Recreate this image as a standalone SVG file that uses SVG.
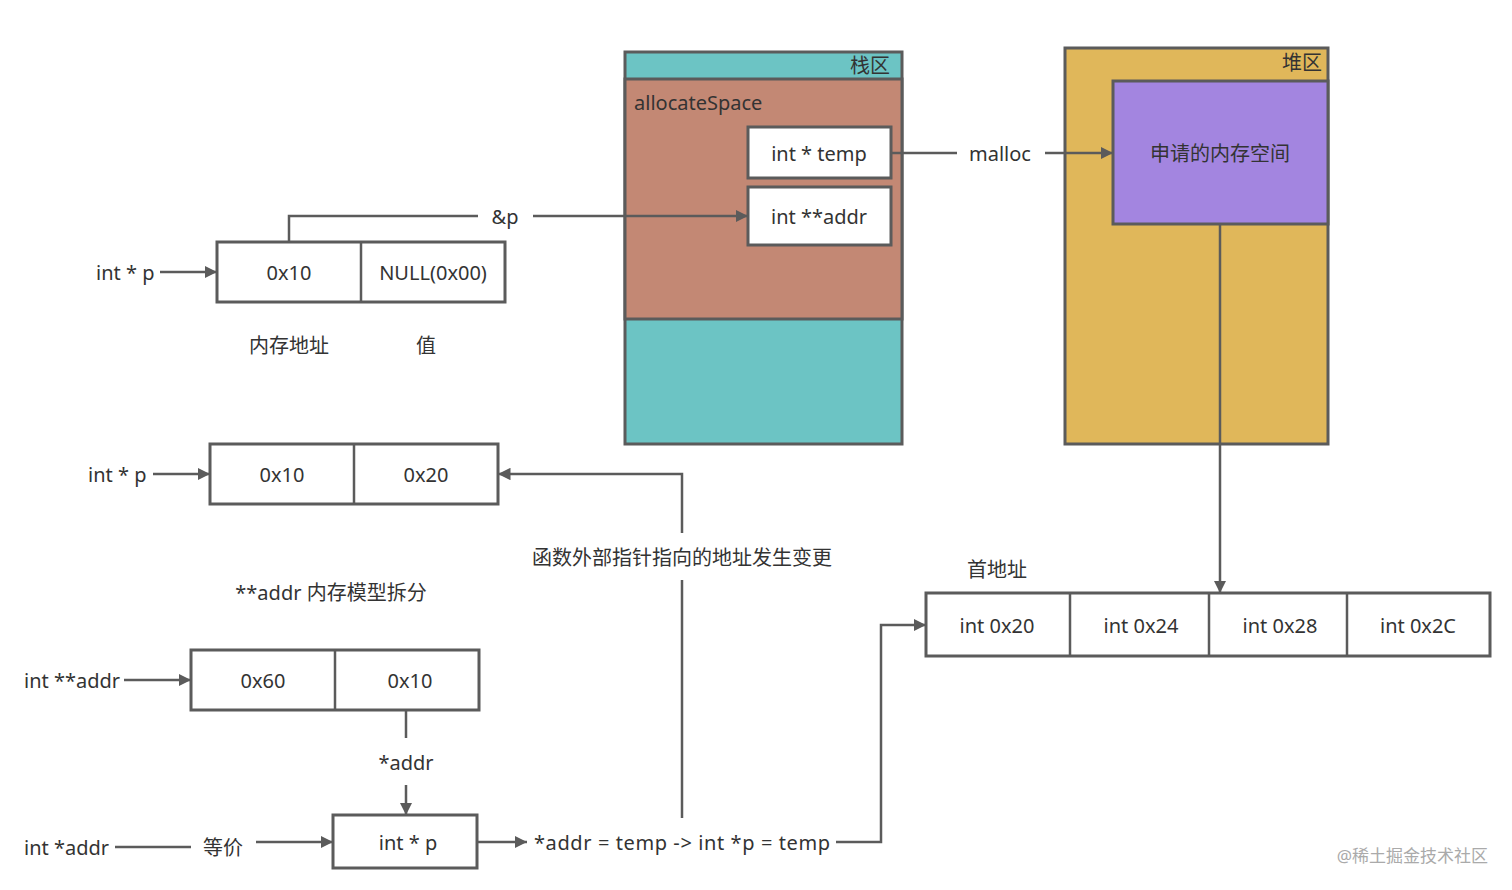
<svg xmlns="http://www.w3.org/2000/svg" width="1512" height="890" viewBox="0 0 1512 890">
<style>
text{font-family:"Noto Sans","Noto Sans CJK SC",sans-serif;font-size:20px;fill:#333;dominant-baseline:central}
.c{text-anchor:middle}
.box{fill:#fff;stroke:#5b5b5b;stroke-width:3}
.ln{fill:none;stroke:#5b5b5b;stroke-width:2.5}
.ar{marker-end:url(#ah)}
</style>
<defs>
<marker id="ah" viewBox="0 0 10 10" refX="10" refY="5" markerWidth="5" markerHeight="5" markerUnits="strokeWidth" orient="auto">
<path d="M0,0 L10,5 L0,10 z" fill="#5b5b5b"/>
</marker>
</defs>
<rect width="1512" height="890" fill="#fff"/>

<g id="stack">
<rect x="625" y="52" width="277" height="392" fill="#6cc4c4" stroke="#5b5b5b" stroke-width="3"/>
<rect x="625" y="79" width="277" height="240" fill="#c38874" stroke="#5b5b5b" stroke-width="3"/>
<text x="890" y="65" text-anchor="end">栈区</text>
<text x="634" y="102">allocateSpace</text>
</g>
<g id="temp"><rect class="box" x="748" y="127" width="143" height="51"/><text class="c" x="819" y="153">int * temp</text></g>
<g id="addr2"><rect class="box" x="748" y="187" width="143" height="58"/><text class="c" x="819" y="216">int **addr</text></g>

<g id="heap">
<rect x="1065" y="48" width="263" height="396" fill="#e0b75a" stroke="#5b5b5b" stroke-width="3"/>
<text x="1322" y="62" text-anchor="end">堆区</text>
</g>
<g id="alloc"><rect x="1113" y="81" width="215" height="143" fill="#a385e0" stroke="#5b5b5b" stroke-width="3"/><text class="c" x="1220" y="153">申请的内存空间</text></g>

<g id="mem1">
<rect class="box" x="217" y="242" width="288" height="60"/>
<line class="ln" x1="361" y1="242" x2="361" y2="302" stroke-width="3"/>
<text class="c" x="289" y="272">0x10</text>
<text class="c" x="433" y="272">NULL(0x00)</text>
</g>
<text x="96" y="272">int * p</text>
<text class="c" x="289" y="345">内存地址</text>
<text class="c" x="426" y="345">值</text>
<text class="c" x="505" y="216">&amp;p</text>

<g id="mem2">
<rect class="box" x="210" y="444" width="288" height="60"/>
<line class="ln" x1="354" y1="444" x2="354" y2="504" stroke-width="3"/>
<text class="c" x="282" y="474">0x10</text>
<text class="c" x="426" y="474">0x20</text>
</g>
<text x="88" y="474">int * p</text>
<text class="c" x="682" y="557">函数外部指针指向的地址发生变更</text>
<text class="c" x="331" y="592">**addr 内存模型拆分</text>

<g id="mem3">
<rect class="box" x="191" y="650" width="288" height="60"/>
<line class="ln" x1="335" y1="650" x2="335" y2="710" stroke-width="3"/>
<text class="c" x="263" y="680">0x60</text>
<text class="c" x="410" y="680">0x10</text>
</g>
<text x="24" y="680">int **addr</text>
<text class="c" x="406" y="762">*addr</text>
<g id="intp"><rect class="box" x="333" y="815" width="144" height="53"/><text class="c" x="408" y="842">int * p</text></g>
<text x="24" y="847">int *addr</text>
<text class="c" x="223" y="847">等价</text>
<text x="534" y="842" textLength="296" lengthAdjust="spacing">*addr = temp -&gt; int *p = temp</text>

<g id="array">
<rect class="box" x="926" y="593" width="564" height="63"/>
<line class="ln" x1="1070" y1="593" x2="1070" y2="656" stroke-width="3"/>
<line class="ln" x1="1209" y1="593" x2="1209" y2="656" stroke-width="3"/>
<line class="ln" x1="1347" y1="593" x2="1347" y2="656" stroke-width="3"/>
<text class="c" x="997" y="625">int 0x20</text>
<text class="c" x="1141" y="625">int 0x24</text>
<text class="c" x="1280" y="625">int 0x28</text>
<text class="c" x="1418" y="625">int 0x2C</text>
</g>
<text class="c" x="997" y="569">首地址</text>
<text x="969" y="153">malloc</text>

<g id="connectors">
<line class="ln ar" x1="160" y1="272" x2="217" y2="272"/>
<polyline class="ln" points="289,242 289,216 478,216"/>
<line class="ln ar" x1="533" y1="216" x2="748" y2="216"/>
<line class="ln" x1="891" y1="153" x2="957" y2="153"/>
<line class="ln ar" x1="1045" y1="153" x2="1113" y2="153"/>
<line class="ln ar" x1="1220" y1="224" x2="1220" y2="593"/>
<line class="ln ar" x1="153" y1="474" x2="210" y2="474"/>
<polyline class="ln ar" points="682,533 682,474 498,474"/>
<line class="ln" x1="682" y1="580" x2="682" y2="818"/>
<line class="ln ar" x1="124" y1="680" x2="191" y2="680"/>
<line class="ln" x1="406" y1="710" x2="406" y2="738"/>
<line class="ln ar" x1="406" y1="785" x2="406" y2="815"/>
<line class="ln" x1="115" y1="847" x2="191" y2="847"/>
<line class="ln ar" x1="256" y1="842" x2="333" y2="842"/>
<line class="ln ar" x1="477" y1="842" x2="527" y2="842"/>
<polyline class="ln ar" points="836,842 881,842 881,625 926,625"/>
</g>
<text x="1488" y="855" text-anchor="end" style="fill:#aaa;font-size:17px">@稀土掘金技术社区</text>
</svg>
